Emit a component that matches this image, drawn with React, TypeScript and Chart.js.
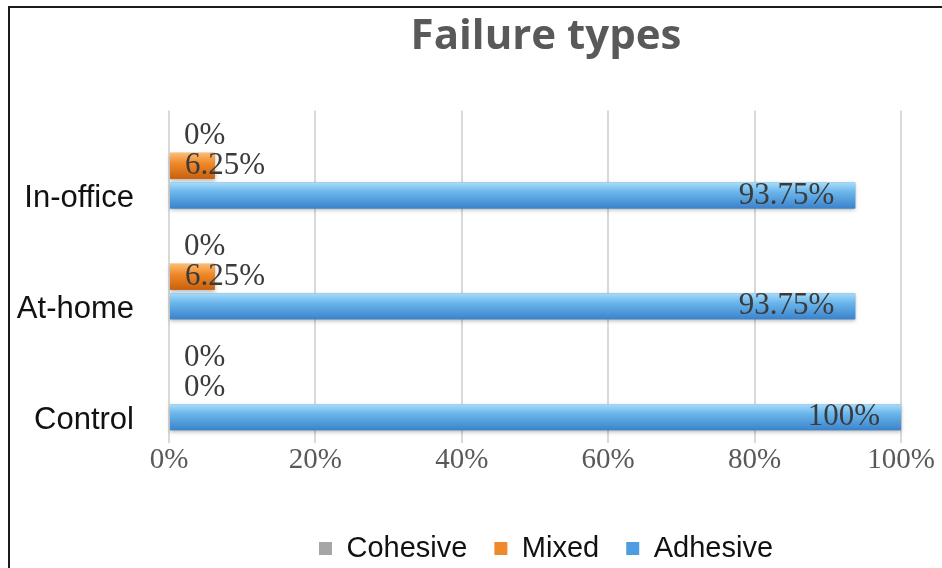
import React, { useEffect, useRef } from 'react';
import { Chart, registerables } from 'chart.js';

Chart.register(...registerables);

// Failure-type shares (%) per treatment group
const categories = ['In-office', 'At-home', 'Control'];
const seriesNames = ['Cohesive', 'Mixed', 'Adhesive'];
const cohesiveValues = [0, 0, 0];
const mixedValues = [6.25, 6.25, 0];
const adhesiveValues = [93.75, 93.75, 100];
const xTickValues = [0, 20, 40, 60, 80, 100];

const SANS = "'Liberation Sans', Arial, Helvetica, sans-serif";
const SERIF = "'Liberation Serif', 'Times New Roman', serif";
const TITLE_FONT = "'Open Sans', 'Liberation Sans', sans-serif";

const flatColors = ['#a6a6a6', '#ef8a2c', '#4d9de0'];
const glossStops: [number, string][][] = [
  [[0, '#d2d2d2'], [0.45, '#a8a8a8'], [1, '#7f7f7f']],
  [[0, '#fbbd73'], [0.4, '#f0892a'], [1, '#c9600c']],
  [[0, '#a9dcfa'], [0.35, '#6cb7ec'], [1, '#3a83cc']],
];

// Paints a glossy vertical gradient on each bar, then writes the value labels.
const barFinish = {
  id: 'barFinish',
  afterDatasetsDraw(chart: any) {
    const ctx: CanvasRenderingContext2D = chart.ctx;
    chart.data.datasets.forEach((_ds: any, di: number) => {
      const meta = chart.getDatasetMeta(di);
      if (meta.hidden) return;
      meta.data.forEach((el: any) => {
        const { x, y, base, height } = el.getProps(['x', 'y', 'base', 'height'], true);
        const left = Math.min(x, base);
        const w = Math.abs(x - base);
        if (w < 0.5) return;
        const top = y - height / 2;
        const g = ctx.createLinearGradient(0, top, 0, top + height);
        glossStops[di].forEach(([o, c]) => g.addColorStop(o, c));
        ctx.save();
        ctx.shadowColor = 'rgba(0,0,0,0.28)';
        ctx.shadowBlur = 4;
        ctx.shadowOffsetY = 2;
        ctx.fillStyle = g;
        ctx.fillRect(left, top, w, height);
        ctx.restore();
      });
    });

    ctx.save();
    ctx.font = `31px ${SERIF}`;
    ctx.fillStyle = '#3b3b3b';
    ctx.textBaseline = 'middle';
    ctx.textAlign = 'left';
    chart.data.datasets.forEach((ds: any, di: number) => {
      const meta = chart.getDatasetMeta(di);
      if (meta.hidden) return;
      meta.data.forEach((el: any, i: number) => {
        const v = ds.data[i] as number;
        const { x, y, base } = el.getProps(['x', 'y', 'base'], true);
        const text = `${v}%`;
        const tw = ctx.measureText(text).width;
        let left = x - 21 - tw;
        if (left < base + 15) left = base + 15;
        ctx.fillText(text, left, y);
      });
    });
    ctx.restore();
  },
};

export default function App() {
  const canvasRef = useRef<HTMLCanvasElement>(null);

  useEffect(() => {
    const seriesValues = [cohesiveValues, mixedValues, adhesiveValues];
    const chart = new Chart(canvasRef.current!, {
      type: 'bar',
      data: {
        labels: categories,
        datasets: seriesNames.map((name, i) => ({
          label: name,
          data: seriesValues[i],
          backgroundColor: flatColors[i],
          borderWidth: 0,
          categoryPercentage: 0.8,
          barPercentage: 0.88,
        })),
      },
      options: {
        indexAxis: 'y',
        responsive: false,
        animation: false,
        layout: { padding: { left: 4, right: 4, top: 0, bottom: 1 } },
        scales: {
          x: {
            type: 'linear',
            position: 'bottom',
            min: 0,
            max: 100,
            grid: { color: '#d9d9d9', lineWidth: 2, drawTicks: false },
            border: { display: false },
            ticks: {
              font: { family: SERIF, size: 29 },
              color: '#595959',
              padding: 0,
              callback: (v: any) => `${v}%`,
            },
            afterBuildTicks: (s: any) => {
              s.ticks = xTickValues.map((value) => ({ value }));
            },
            afterFit: (s: any) => {
              s.height = 64;
              s.paddingLeft = 0;
              s.paddingRight = 181;
            },
          },
          y: {
            type: 'category',
            grid: { display: false, drawTicks: false },
            border: { display: false },
            ticks: {
              font: { family: SANS, size: 31 },
              color: '#111111',
              padding: 35,
              labelOffset: 33,
            },
            afterFit: (s: any) => {
              s.width = 155;
            },
          },
        },
        plugins: {
          title: {
            display: true,
            text: 'Failure types',
            color: '#595959',
            font: { family: TITLE_FONT, size: 42, weight: 'bold' },
            padding: { top: 4, bottom: 48 },
          },
          legend: {
            position: 'bottom',
            labels: {
              font: { family: SANS, size: 29 },
              color: '#111111',
              boxWidth: 13,
              boxHeight: 13,
              padding: 27,
            },
          },
          tooltip: { enabled: false },
        },
      },
      plugins: [barFinish],
    } as any);
    return () => chart.destroy();
  }, []);

  return (
    <div
      style={{
        position: 'fixed',
        left: 8,
        top: 6,
        width: 934,
        height: 570,
        overflow: 'hidden',
        borderLeft: '2px solid #1c1c1c',
        borderTop: '2px solid #1c1c1c',
        background: '#ffffff',
      }}
    >
      <canvas
        ref={canvasRef}
        width={1072}
        height={566}
        style={{ display: 'block', width: 1072, height: 566 }}
      />
    </div>
  );
}
